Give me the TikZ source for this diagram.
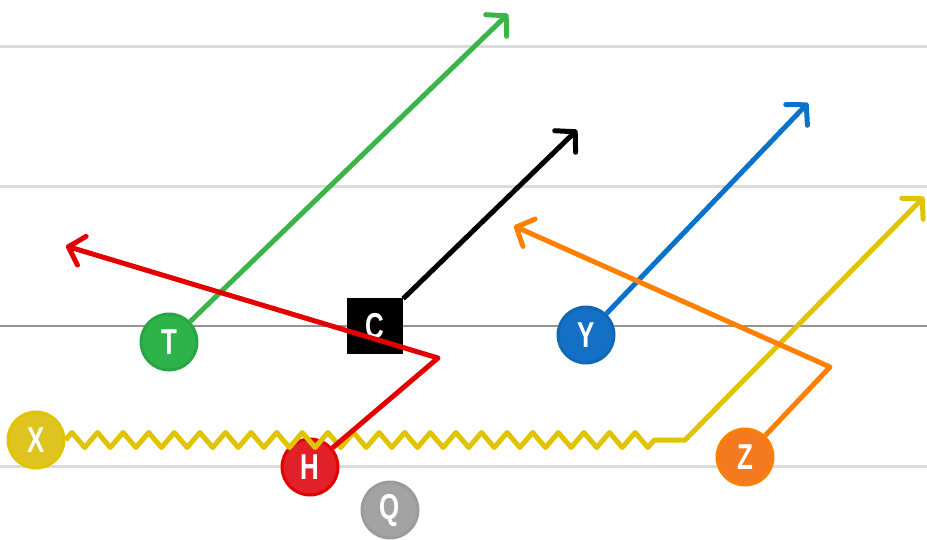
\documentclass[tikz,border=0pt]{standalone}
\usepackage{fontspec}
\newfontfamily\plfont[FakeStretch=0.72]{Liberation Sans}
\usetikzlibrary{calc, positioning}
\usetikzlibrary{arrows.meta}
\usetikzlibrary{decorations.pathmorphing}

\definecolor{tgreen}{HTML}{2DB34A}
\definecolor{rgreen}{HTML}{3BB54A}
\definecolor{yblue}{HTML}{1470C4}
\definecolor{rblue}{HTML}{0A72CA}
\definecolor{xyellow}{HTML}{DFC320}
\definecolor{ryellow}{HTML}{E0C400}
\definecolor{hred}{HTML}{E2202A}
\definecolor{rred}{HTML}{E30000}
\definecolor{zorange}{HTML}{F47A20}
\definecolor{rorange}{HTML}{FF7F00}
\definecolor{qgrey}{HTML}{A3A3A3}

\tikzset{
  yard/.style={line width=3pt, draw=black!14},
  scrim/.style={line width=2.2pt, draw=black!42},
  player/.style={circle, minimum size=56pt, inner sep=0pt, line width=3pt,
    text=white, font=\plfont\bfseries\fontsize{36}{36}\selectfont},
  center/.style={rectangle, minimum size=56pt, inner sep=0pt, fill=black,
    text=white, font=\plfont\bfseries\fontsize{36}{36}\selectfont},
  route/.style={line width=5pt, line join=round,
    -{Straight Barb[length=14pt, width=30pt, round]}},
}

\begin{document}
\begin{tikzpicture}[x=1pt, y=-1pt]
\useasboundingbox (0,0) rectangle (927,539);

% field lines
\foreach \yy in {46,186,466} {
  \draw[yard] (0,\yy) -- (927,\yy);
}
\draw[scrim] (0,326) -- (927,326);

% players
\node[player, fill=tgreen, draw=tgreen!92!black] (t) at (169,342) {T};
\node[center] (c) at (375,326) {C};
\node[player, fill=yblue, draw=yblue!92!black] (y) at (586,335) {Y};
\node[player, fill=xyellow, draw=ryellow] (x) at (36,440) {X};
\node[player, fill=hred, draw=rred] (h) at (310,467) {H};
\node[player, fill=qgrey, draw=qgrey!95!black] (q) at (390,510) {Q};
\node[player, fill=zorange, draw=rorange] (z) at (745,457) {Z};

% route ends and breaks
\coordinate (tend) at (508,14);
\coordinate (cend) at (577,130);
\coordinate (yend) at (808,103);
\coordinate (hbreak) at (438,358);
\coordinate (hend) at (66,246);
\coordinate (zbreak) at (830,367);
\coordinate (zend) at (514,226);
\coordinate (xmotion) at (666,440);
\coordinate (xset) at (685,440);
\coordinate (xend) at (924,197);

% routes
\draw[route, draw=ryellow] (x) decorate[decoration={zigzag, segment length=25.6pt, amplitude=7.5pt}] {-- (xmotion)}
  -- (xset) -- (xend);
\draw[route, draw=rgreen] (t) -- (tend);
\draw[route, draw=black] (c) -- (cend);
\draw[route, draw=rblue] (y) -- (yend);
\draw[route, draw=rred] (h) -- (hbreak) -- (hend);
\draw[route, draw=rorange] (z) -- (zbreak) -- (zend);

\end{tikzpicture}
\end{document}
